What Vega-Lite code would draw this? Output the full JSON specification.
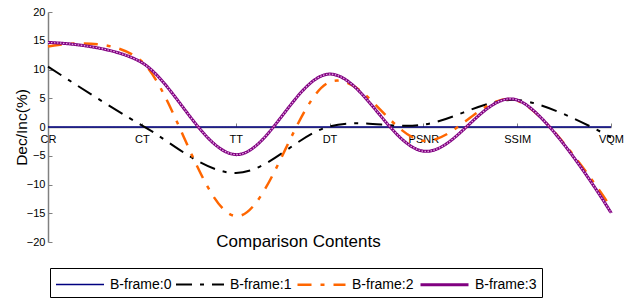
{
  "$schema": "https://vega.github.io/schema/vega-lite/v6.json",
  "autosize": "none",
  "padding": {"left": 48, "top": 12, "right": 21, "bottom": 58},
  "width": 563,
  "height": 230,
  "config": {
    "view": {"stroke": null},
    "font": "Liberation Sans"
  },
  "data": {
    "values": [
      {"series": "B-frame:0", "metric": "CR", "value": 0},
      {"series": "B-frame:0", "metric": "CT", "value": 0},
      {"series": "B-frame:0", "metric": "TT", "value": 0},
      {"series": "B-frame:0", "metric": "DT", "value": 0},
      {"series": "B-frame:0", "metric": "PSNR", "value": 0},
      {"series": "B-frame:0", "metric": "SSIM", "value": 0},
      {"series": "B-frame:0", "metric": "VQM", "value": 0},
      {"series": "B-frame:1", "metric": "CR", "value": 10.5},
      {"series": "B-frame:1", "metric": "CT", "value": 0.3},
      {"series": "B-frame:1", "metric": "TT", "value": -8},
      {"series": "B-frame:1", "metric": "DT", "value": 0.1},
      {"series": "B-frame:1", "metric": "PSNR", "value": 0.4},
      {"series": "B-frame:1", "metric": "SSIM", "value": 4.7},
      {"series": "B-frame:1", "metric": "VQM", "value": -1.8},
      {"series": "B-frame:2", "metric": "CR", "value": 14},
      {"series": "B-frame:2", "metric": "CT", "value": 11.4},
      {"series": "B-frame:2", "metric": "TT", "value": -15.5},
      {"series": "B-frame:2", "metric": "DT", "value": 7.8},
      {"series": "B-frame:2", "metric": "PSNR", "value": -2.4},
      {"series": "B-frame:2", "metric": "SSIM", "value": 4.6},
      {"series": "B-frame:2", "metric": "VQM", "value": -14},
      {"series": "B-frame:3", "metric": "CR", "value": 14.7},
      {"series": "B-frame:3", "metric": "CT", "value": 11.2},
      {"series": "B-frame:3", "metric": "TT", "value": -4.8},
      {"series": "B-frame:3", "metric": "DT", "value": 9.2},
      {"series": "B-frame:3", "metric": "PSNR", "value": -4.2},
      {"series": "B-frame:3", "metric": "SSIM", "value": 4.7},
      {"series": "B-frame:3", "metric": "VQM", "value": -14.9}
    ]
  },
  "encoding": {
    "x": {
      "field": "metric",
      "type": "ordinal",
      "sort": ["CR", "CT", "TT", "DT", "PSNR", "SSIM", "VQM"],
      "scale": {"type": "point", "padding": 0},
      "axis": {
        "title": "Comparison Contents",
        "titleFontSize": 17,
        "titleFontWeight": "normal",
        "titleColor": "#000000",
        "titleX": 250,
        "titleY": 119,
        "titleAlign": "center",
        "titleBaseline": "alphabetic",
        "offset": -115,
        "labelAngle": 0,
        "labelFontSize": 11,
        "labelColor": "#000000",
        "labelPadding": 10,
        "labelOverlap": false,
        "labelBound": false,
        "labelFlush": false,
        "domainColor": "#808080",
        "domainWidth": 1.5,
        "tickColor": "#808080",
        "tickSize": -4,
        "grid": false
      }
    },
    "y": {
      "field": "value",
      "type": "quantitative",
      "scale": {"domain": [-20, 20], "nice": false},
      "axis": {
        "title": "Dec/Inc(%)",
        "titleFontSize": 15.5,
        "titleFontWeight": "normal",
        "titleColor": "#000000",
        "titleX": -27,
        "titleY": 115,
        "titleAlign": "center",
        "titleBaseline": "middle",
        "values": [-20, -15, -10, -5, 0, 5, 10, 15, 20],
        "labelFontSize": 11,
        "labelColor": "#000000",
        "labelPadding": 7,
        "domainColor": "#808080",
        "domainWidth": 1.5,
        "tickColor": "#808080",
        "tickSize": -4,
        "grid": false
      }
    }
  },
  "layer": [
    {
      "mark": {"type": "line", "interpolate": "cardinal", "tension": 0},
      "encoding": {
        "color": {
          "field": "series",
          "type": "nominal",
          "scale": {
            "domain": ["B-frame:0", "B-frame:1", "B-frame:2", "B-frame:3"],
            "range": ["#000080", "#000000", "#FF6600", "#800080"]
          },
          "legend": {
            "title": null,
            "orient": "none",
            "legendX": 2,
            "legendY": 256,
            "direction": "horizontal",
            "strokeColor": "#000000",
            "padding": 5,
            "symbolType": "M-1,0L3.8,0",
            "symbolSize": 400,
            "labelOffset": 33,
            "labelFontSize": 14,
            "labelColor": "#000000",
            "labelLimit": 200,
            "columnPadding": 0
          }
        },
        "strokeDash": {
          "field": "series",
          "type": "nominal",
          "scale": {
            "domain": ["B-frame:0", "B-frame:1", "B-frame:2", "B-frame:3"],
            "range": [[1, 0], [16, 8, 4, 8], [14, 9, 4, 9], [1, 0]]
          },
          "legend": null
        },
        "strokeWidth": {
          "field": "series",
          "type": "nominal",
          "scale": {
            "domain": ["B-frame:0", "B-frame:1", "B-frame:2", "B-frame:3"],
            "range": [1.5, 3, 3, 4]
          },
          "legend": null
        }
      }
    },
    {
      "transform": [{"filter": "datum.series === 'B-frame:3'"}],
      "mark": {
        "type": "line",
        "interpolate": "cardinal",
        "tension": 0,
        "stroke": "#E8B0E8",
        "strokeWidth": 1.2,
        "strokeDash": [1.5, 1.5]
      },
      "encoding": {}
    }
  ]
}
